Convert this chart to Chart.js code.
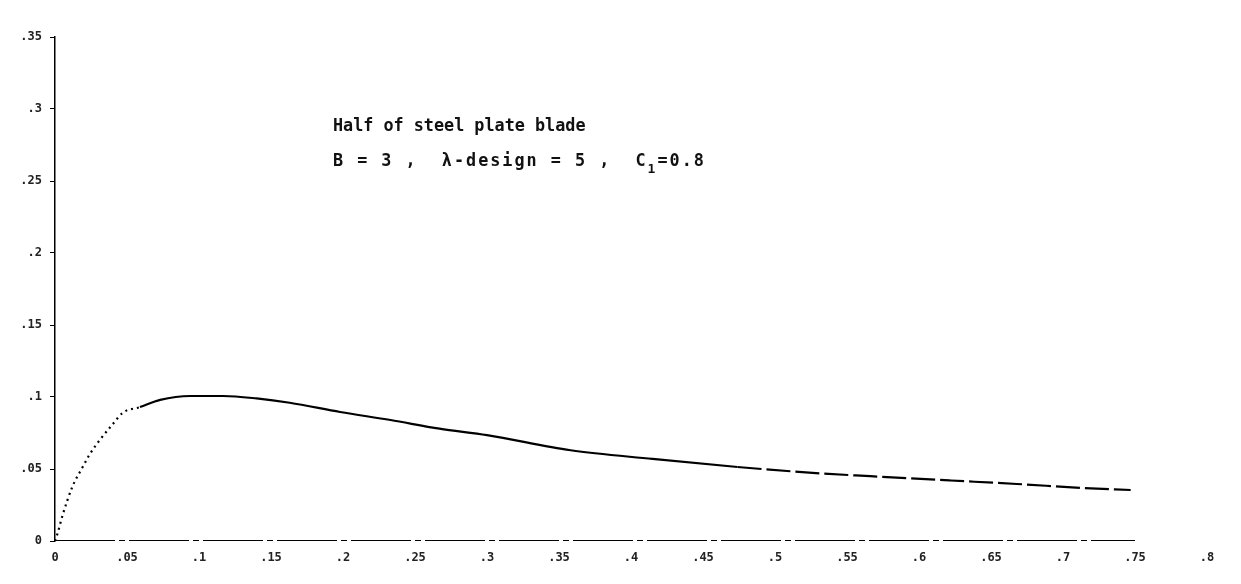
<!DOCTYPE html>
<html>
<head>
<meta charset="utf-8">
<script src="https://cdn.jsdelivr.net/npm/chart.js@4"></script>
<style>
  body { margin: 0; background: #fff; }
  canvas { display: block; }
</style>
</head>
<body>
<canvas id="blade-chart" width="1241" height="584"></canvas>
<script>
// curve
const xValues = [0, 0.002, 0.005, 0.012, 0.019, 0.024, 0.031, 0.040, 0.047, 0.059, 0.073, 0.094, 0.117, 0.140, 0.163, 0.198, 0.233, 0.267, 0.300, 0.358, 0.415, 0.474, 0.531, 0.566, 0.622, 0.668, 0.714, 0.747];
const yValues = [0, 0.006, 0.017, 0.0375, 0.051, 0.060, 0.070, 0.081, 0.089, 0.093, 0.098, 0.1007, 0.1007, 0.099, 0.096, 0.0896, 0.084, 0.078, 0.0735, 0.063, 0.057, 0.0514, 0.047, 0.045, 0.042, 0.0396, 0.0368, 0.0354];

// x axis drawn as a rough baseline from 0 to .75
const baselineX = [0, 0.75];
const baselineY = [0, 0];

const xTickValues = [0, 0.05, 0.1, 0.15, 0.2, 0.25, 0.3, 0.35, 0.4, 0.45, 0.5, 0.55, 0.6, 0.65, 0.7, 0.75, 0.8];
const xTickLabels = ['0', '.05', '.1', '.15', '.2', '.25', '.3', '.35', '.4', '.45', '.5', '.55', '.6', '.65', '.7', '.75', '.8'];
const yTickValues = [0, 0.05, 0.1, 0.15, 0.2, 0.25, 0.3, 0.35];
const yTickLabels = ['0', '.05', '.1', '.15', '.2', '.25', '.3', '.35'];

const titleLine1 = 'Half of steel plate blade';
const titleLine2 = 'B = 3 ,  \u03bb-design = 5 ,  C';
const titleSub = '1';
const titleTail = '=0.8';

const monoFont = '"DejaVu Sans Mono", "Liberation Mono", monospace';

// typed note in the middle of the plot
const notePlugin = {
    id: 'note',
    afterDraw(chart) {
        const { ctx, scales } = chart;
        const x0 = scales.x.getPixelForValue(0.193);
        const y1 = scales.y.getPixelForValue(0.285);
        const y2 = scales.y.getPixelForValue(0.2605);
        ctx.save();
        ctx.fillStyle = '#111';
        ctx.textBaseline = 'alphabetic';
        ctx.font = 'bold 16.8px ' + monoFont;
        ctx.fillText(titleLine1, x0, y1);
        ctx.letterSpacing = '2px';
        ctx.fillText(titleLine2, x0, y2);
        let w = ctx.measureText(titleLine2).width;
        ctx.letterSpacing = '0px';
        ctx.font = 'bold 13px ' + monoFont;
        ctx.fillText(titleSub, x0 + w, y2 + 7);
        w += ctx.measureText(titleSub).width + 2;
        ctx.font = 'bold 16.8px ' + monoFont;
        ctx.letterSpacing = '2px';
        ctx.fillText(titleTail, x0 + w, y2);
        ctx.restore();
    }
};

new Chart(document.getElementById('blade-chart'), {
    type: 'line',
    data: {
        datasets: [{
            label: 'blade',
            data: xValues.map((x, i) => ({ x: x, y: yValues[i] })),
            borderColor: '#000',
            borderWidth: 2.2,
            pointRadius: 0,
            fill: false,
            cubicInterpolationMode: 'monotone',
            segment: {
                borderDash: ctx => {
                    const x = ctx.p0.parsed.x;
                    if (x < 0.05) return [2, 4];
                    if (x > 0.44) return [24, 5];
                    return undefined;
                }
            }
        }, {
            label: 'baseline',
            data: baselineX.map((x, i) => ({ x: x, y: baselineY[i] })),
            borderColor: '#000',
            borderWidth: 1.8,
            borderDash: [60, 4, 6, 4],
            pointRadius: 0,
            fill: false
        }]
    },
    options: {
        responsive: false,
        animation: false,
        layout: {
            padding: { top: 37, right: 34, left: 0, bottom: 0 }
        },
        plugins: {
            legend: { display: false },
            title: { display: false },
            tooltip: { enabled: false }
        },
        scales: {
            x: {
                type: 'linear',
                min: 0,
                max: 0.8,
                afterBuildTicks: scale => {
                    scale.ticks = xTickValues.map(v => ({ value: v }));
                },
                afterFit: scale => { scale.height = 43; },
                border: { display: false },
                grid: { drawOnChartArea: false, drawTicks: false },
                ticks: {
                    padding: 10,
                    color: '#222',
                    font: { family: monoFont, size: 12, weight: 'bold' },
                    callback: (value, index) => xTickLabels[index]
                }
            },
            y: {
                type: 'linear',
                min: 0,
                max: 0.35,
                afterBuildTicks: scale => {
                    scale.ticks = yTickValues.map(v => ({ value: v }));
                },
                afterFit: scale => { scale.width = 55; },
                border: { display: true, color: '#000', width: 1.5, dash: [3, 3] },
                grid: { drawOnChartArea: false, drawTicks: true, tickLength: 5, color: '#000' },
                ticks: {
                    padding: 8,
                    color: '#222',
                    font: { family: monoFont, size: 12, weight: 'bold' },
                    callback: (value, index) => yTickLabels[index]
                }
            }
        }
    },
    plugins: [notePlugin]
});
</script>
</body>
</html>
